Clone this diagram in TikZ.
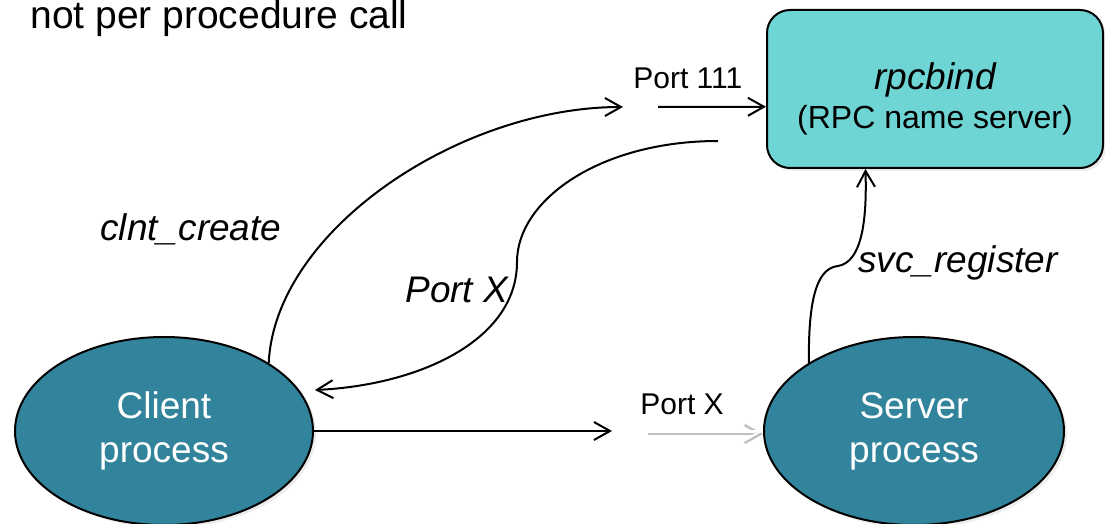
\documentclass[tikz,border=0pt]{standalone}
\usepackage{fontspec}
\setmainfont{Liberation Sans}
\usetikzlibrary{shapes.geometric, arrows.meta, shadows}
\definecolor{boxteal}{HTML}{6FD4D4}
\definecolor{procteal}{HTML}{31849B}
\tikzset{
    namebox/.style={rectangle, draw, line width=1pt, fill=boxteal, rounded corners=11.5pt, minimum width=168pt, minimum height=79pt, align=center, drop shadow={opacity=0.15, shadow xshift=1.5pt, shadow yshift=-1.5pt}},
    proc/.style={ellipse, draw, line width=1pt, fill=procteal, text=white, align=center, inner sep=0pt, minimum width=149pt, minimum height=94pt, font=\fontsize{18.5}{22}\selectfont, drop shadow={opacity=0.15, shadow xshift=1.5pt, shadow yshift=-1.5pt}},
    arrow/.style={-{Straight Barb[length=8pt, width=9pt]}, line width=1pt},
    whitearrow/.style={arrow, draw=white, preaction={draw=black!25, line width=1.2pt, transform canvas={yshift=-1.5pt}}},
    lbl/.style={font=\fontsize{18.5}{22}\selectfont\itshape, anchor=base west, inner sep=0pt},
    portlbl/.style={font=\fontsize{15}{18}\selectfont, anchor=base west, inner sep=0pt},
}
\begin{document}
\begin{tikzpicture}[x=0.5pt, y=-0.5pt]
    \useasboundingbox (0,0) rectangle (1105,524);

    % Heading fragment
    \node[anchor=base west, inner sep=0pt, font=\fontsize{19.5}{23}\selectfont] (title) at (30,29) {not per procedure call};

    % Name server
    \node[namebox] (rpcbind) at (935,89) {\rule{0pt}{23pt}{\fontsize{18.5}{22}\selectfont\itshape rpcbind}\\[3pt]{\fontsize{16}{20}\selectfont (RPC name server)}};

    % Processes
    \node[proc] (client) at (164,431) {Client\\process};
    \node[proc, minimum width=150pt] (server) at (914,431) {Server\\process};

    % Free arrow ends
    \coordinate (p111in) at (623,107);
    \coordinate (p111out) at (658,107);
    \coordinate (portxback) at (718,141);
    \coordinate (clienttip) at (315,390);
    \coordinate (portxin) at (612,431);
    \coordinate (portxout) at (648,431);

    % Labels
    \node[lbl] (create) at (100,241) {clnt\_create};
    \node[lbl] (portx) at (405,303) {Port X};
    \node[lbl] (register) at (858,273) {svc\_register};
    \node[portlbl] (port111) at (633,89) {Port 111};
    \node[portlbl] (portxlbl) at (640,415) {Port X};

    % Arrows
    \draw[arrow] (client.33) .. controls (275,230) and (460,107) .. (p111in);
    \draw[arrow] (p111out) -- (rpcbind.186);
    \draw[arrow] (portxback) .. controls (600,141) and (517,200) .. (517,262) .. controls (517,340) and (420,385) .. (clienttip);
    \draw[arrow] (server.147) .. controls (808,290) and (820,268) .. (838,266) .. controls (862,262) and (867,220) .. (rpcbind.229);
    \draw[arrow] (client.east) -- (portxin);
    \draw[whitearrow] (portxout) -- (server.west);
\end{tikzpicture}
\end{document}
